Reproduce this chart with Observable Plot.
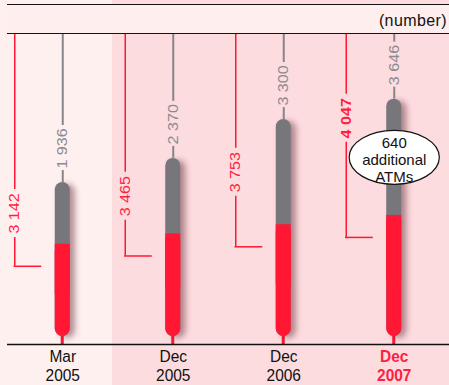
<!DOCTYPE html>
<html>
<head>
<meta charset="utf-8">
<script src="https://cdn.jsdelivr.net/npm/d3@7"></script>
<script src="https://cdn.jsdelivr.net/npm/@observablehq/plot@0.6"></script>
<style>
  html, body { margin: 0; padding: 0; }
  body {
    width: 449px; height: 385px; overflow: hidden;
    background: linear-gradient(to right, #fff0f0 0, #fff0f0 112px, #fddcdf 112px);
    font-family: "Liberation Sans", Arial, sans-serif;
  }
  #head {
    margin: 4px 0 0 7px; height: 28px;
    border-top: 1.5px solid #141414; border-bottom: 1.5px solid #141414;
    background: #feeeee; color: #111;
    text-align: right; font-size: 16px; letter-spacing: 0.4px; line-height: 31px;
    padding-right: 2px;
  }
  #chart svg { display: block; }
</style>
</head>
<body>
<div id="head"></div>
<div id="chart"></div>
<script>
// Periods on the horizontal axis
const months = ["Mar", "Dec", "Dec", "Dec"];
const years = ["2005", "2005", "2006", "2007"];
// Lower (red) and upper (grey) segments of each column
const lowerValues = [3142, 3465, 3753, 4047];
const upperValues = [1936, 2370, 3300, 3646];
// Emphasised period and its callout
const highlighted = 3;
const calloutText = "640\nadditional\nATMs";
const unitLabel = "(number)";

document.getElementById("head").textContent = unitLabel;

const W = 449, H = 350, mL = 7, mR = 0, mB = 40;
const plotH = H - mB;
const yMax = 9720;
const u = yMax / plotH;            // value units per pixel
const pxX = (W - mL - mR) / 4;      // pixels per column
const tallValues = 1.15;            // vertical stretch of the value lettering
const tallPeriods = 1.1;            // vertical stretch of the period lettering

const red = "#ff1733", redText = "#ff1f3f";
const grey = "#77777b", greyLine = "#86868a", greyText = "#8b8b8f";

const fmt = d3.formatLocale({decimal: ".", thousands: " ", grouping: [3], currency: ["", ""]}).format(",");

const rows = months.map((m, i) => ({
  i, month: m, year: years[i],
  lower: lowerValues[i], upper: upperValues[i],
  total: lowerValues[i] + upperValues[i],
  hl: i === highlighted
}));

// vertical position of the red value label
const labelMid = d => (d.lower + d.total) / 2 + (d.hl ? 39 * u : 0);
const bracketY = d => d.lower - 22 * u;

// ellipse symbol for the callout bubble
const ellipse = {
  draw(ctx, size) {
    const ry = Math.sqrt(size / Math.PI), rx = ry * 1.67, k = 0.5523;
    ctx.moveTo(rx, 0);
    ctx.bezierCurveTo(rx, k * ry, k * rx, ry, 0, ry);
    ctx.bezierCurveTo(-k * rx, ry, -rx, k * ry, -rx, 0);
    ctx.bezierCurveTo(-rx, -k * ry, -k * rx, -ry, 0, -ry);
    ctx.bezierCurveTo(k * rx, -ry, rx, -k * ry, rx, 0);
    ctx.closePath();
  }
};

const barInset = (pxX - 15) / 2;
const stemInset = (pxX - 3) / 2;
const colX1 = d => d.i - 0.5, colX2 = d => d.i + 0.5;

const chart = Plot.plot({
  width: W, height: H,
  marginLeft: mL, marginRight: mR, marginTop: 0, marginBottom: mB,
  x: {domain: [-0.5, 3.5], axis: null},
  y: {domain: [0, yMax], axis: null},
  style: {background: "transparent", fontFamily: "'Liberation Sans', Arial, sans-serif", overflow: "visible"},
  marks: [
    // small stem joining each column to the baseline
    Plot.rect(rows, {x1: colX1, x2: colX2, y1: () => 0, y2: "lower", insetLeft: stemInset, insetRight: stemInset, fill: red}),
    // full column (grey), then the red lower part over it
    Plot.rect(rows, {x1: colX1, x2: colX2, y1: () => 0, y2: "total", insetLeft: barInset, insetRight: barInset, insetBottom: 8, rx: 7.5, fill: grey}),
    Plot.rect(rows, {x1: colX1, x2: colX2, y1: () => 0, y2: "lower", insetLeft: barInset, insetRight: barInset, insetBottom: 8, rx: 7.5, fill: red}),
    Plot.rect(rows, {x1: colX1, x2: colX2, y1: d => d.lower / 2, y2: "lower", insetLeft: barInset, insetRight: barInset, fill: red}),
    // baseline
    Plot.ruleY([0], {stroke: "#111", strokeWidth: 1.5}),
    // grey leader lines and labels
    Plot.ruleX(rows, {x: "i", y1: "total", y2: d => d.total + 12 * u, stroke: greyLine, strokeWidth: 2}),
    Plot.ruleX(rows, {x: "i", y1: d => d.total + 57 * u, y2: () => yMax, stroke: greyLine, strokeWidth: 2}),
    Plot.text(rows, {x: "i", y: "total", text: d => fmt(d.upper), rotate: -90, textAnchor: "start", dy: -14, fontSize: 14, fill: greyText}),
    // red brackets and labels
    Plot.ruleX(rows, {x: "i", dx: -48, y1: d => labelMid(d) + 24 * u, y2: () => yMax, stroke: red, strokeWidth: 1.5}),
    Plot.ruleX(rows, {x: "i", dx: -48, y1: bracketY, y2: d => labelMid(d) - 24 * u, stroke: red, strokeWidth: 1.5}),
    Plot.ruleY(rows, {y: bracketY, x1: d => d.i - 48.75 / pxX, x2: d => d.i - 21 / pxX, stroke: red, strokeWidth: 1.5}),
    Plot.text(rows.filter(d => !d.hl), {x: "i", dx: -48, y: labelMid, text: d => fmt(d.lower), rotate: -90, fontSize: 14, fill: redText}),
    Plot.text(rows.filter(d => d.hl), {x: "i", dx: -48, y: labelMid, text: d => fmt(d.lower), rotate: -90, fontSize: 14, fontWeight: "bold", fill: redText}),
    // callout bubble
    Plot.dot(rows.filter(d => d.hl), {x: "i", y: d => d.lower + d.upper / 2, r: 27, symbol: ellipse, fill: "white", stroke: "#111", strokeWidth: 1.2}),
    Plot.text(rows.filter(d => d.hl), {x: "i", y: d => d.lower + d.upper / 2, text: () => calloutText, fontSize: 15, lineHeight: 1.15, dy: 2, fill: "#111"}),
    // period labels
    Plot.text(rows.filter(d => !d.hl), {x: "i", y: () => 0, text: d => d.month + "\n" + d.year, lineAnchor: "top", lineHeight: 1.12, dy: 4, fontSize: 15.5, fill: "#111"}),
    Plot.text(rows.filter(d => d.hl), {x: "i", y: () => 0, text: d => d.month + "\n" + d.year, lineAnchor: "top", lineHeight: 1.12, dy: 4, fontSize: 15.5, fontWeight: "bold", fill: redText})
  ]
});

// soft shadow beside the columns
const rectGroups = d3.select(chart).selectAll("g[aria-label='rect']").nodes();
if (rectGroups[1]) rectGroups[1].style.filter = "drop-shadow(5px 2px 3px rgba(80, 20, 30, 0.45))";

// tall lettering for value and period labels (not the callout)
const textGroups = d3.select(chart).selectAll("g[aria-label='text']").nodes();
textGroups.forEach((g, k) => {
  if (k === 3) return; // callout text
  const tall = k >= 4 ? tallPeriods : tallValues;
  d3.select(g).selectAll("text").each(function () {
    const t = this.getAttribute("transform");
    if (t) this.setAttribute("transform", t.replace(/^(translate\([^)]*\))/, `$1 scale(1,${tall})`));
  });
});

document.getElementById("chart").appendChild(chart);
</script>
</body>
</html>
